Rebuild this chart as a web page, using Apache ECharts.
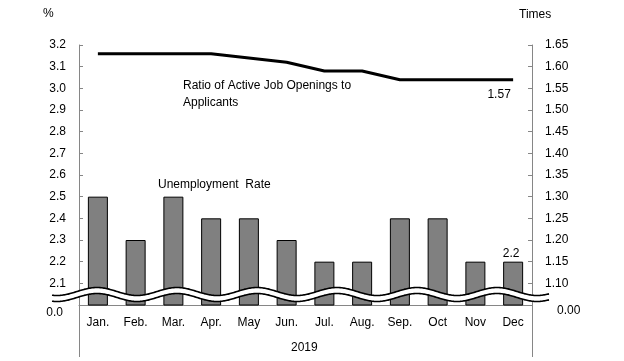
<!DOCTYPE html>
<html>
<head>
<meta charset="utf-8">
<script src="https://cdn.jsdelivr.net/npm/echarts@6/dist/echarts.min.js"></script>
<style>
html,body{margin:0;padding:0;background:#fff;}
#main{width:624px;height:361px;}
</style>
</head>
<body>
<div id="main"></div>
<script>
var categories = ['Jan.', 'Feb.', 'Mar.', 'Apr.', 'May', 'Jun.', 'Jul.', 'Aug.', 'Sep.', 'Oct', 'Nov', 'Dec'];
var unemploymentRate = [2.5, 2.3, 2.5, 2.4, 2.4, 2.3, 2.2, 2.2, 2.4, 2.4, 2.2, 2.2];
var jobRatio = [1.63, 1.63, 1.63, 1.63, 1.62, 1.61, 1.59, 1.59, 1.57, 1.57, 1.57, 1.57];
var yearLabel = '2019';
var leftAxisTitle = '%';
var rightAxisTitle = 'Times';
var ratioTitle = 'Ratio of Active Job Openings to\nApplicants';
var unempTitle = 'Unemployment  Rate';

var FONT = '"Liberation Sans", Arial, sans-serif';
var chart = echarts.init(document.getElementById('main'), null, {renderer: 'canvas'});

var gridL = 79, gridR = 92, gridT = 45, gridB = 56;
var W = 624, H = 361;
var axisY = H - gridB;

function waveGraphics() {
  var P = 80, A = 4, yc = 291.5, gap = 6, x0 = 52, x1 = 549;
  var top = [], bot = [];
  for (var x = x0; x <= x1; x += 1) {
    var y = yc - A * Math.cos(2 * Math.PI * (x - 97) / P);
    top.push([x, y]);
    bot.push([x, y + gap]);
  }
  var poly = top.concat(bot.slice().reverse());
  return [
    {type: 'polygon', z: 100, shape: {points: poly}, style: {fill: '#fff', stroke: null}},
    {type: 'polyline', z: 101, shape: {points: top}, style: {stroke: '#000', lineWidth: 1.6, fill: null}},
    {type: 'polyline', z: 101, shape: {points: bot}, style: {stroke: '#000', lineWidth: 1.6, fill: null}}
  ];
}

var option = {
  animation: false,
  textStyle: {fontFamily: FONT},
  grid: {left: gridL, right: gridR, top: gridT, bottom: gridB, containLabel: false},
  xAxis: {
    type: 'category',
    data: categories,
    axisLine: {lineStyle: {color: '#868686', width: 1}},
    axisTick: {show: false},
    axisLabel: {color: '#000', fontSize: 12, fontFamily: FONT, margin: 12}
  },
  yAxis: [
    {
      type: 'value', min: 2.0, max: 3.2, interval: 0.1, position: 'left',
      axisLine: {show: true, lineStyle: {color: '#868686'}},
      axisTick: {show: true, inside: true, length: 4, lineStyle: {color: '#868686'}},
      splitLine: {show: false},
      axisLabel: {
        color: '#000', fontSize: 12, fontFamily: FONT, margin: 13,
        formatter: function (v) {
          if (Math.abs(v - 2.0) < 1e-6) return '{z|0.0}';
          return v.toFixed(1);
        },
        rich: {z: {fontSize: 12, fontFamily: FONT, color: '#000', padding: [16, 3, 0, 0]}}
      }
    },
    {
      type: 'value', min: 1.05, max: 1.65, interval: 0.05, position: 'right',
      axisLine: {show: true, lineStyle: {color: '#868686'}},
      axisTick: {show: true, inside: true, length: 4, lineStyle: {color: '#868686'}},
      splitLine: {show: false},
      axisLabel: {
        color: '#000', fontSize: 12, fontFamily: FONT, margin: 13,
        formatter: function (v) {
          if (Math.abs(v - 1.05) < 1e-6) return '{z|0.00}';
          return v.toFixed(2);
        },
        rich: {z: {fontSize: 12, fontFamily: FONT, color: '#000', padding: [12, 0, 0, 12]}}
      }
    }
  ],
  series: [
    {
      type: 'bar', yAxisIndex: 0, data: unemploymentRate.map(function (v, i) {
        if (i === unemploymentRate.length - 1) {
          return {value: v, label: {show: true, position: 'top', distance: 2, offset: [-2, 0], color: '#000', fontSize: 12, fontFamily: FONT, formatter: function (p) { return p.value.toFixed(1); }}};
        }
        return v;
      }),
      barWidth: 20,
      itemStyle: {color: '#808080', borderColor: '#000', borderWidth: 1}
    },
    {
      type: 'line', yAxisIndex: 1, data: jobRatio.map(function (v, i) {
        if (i === jobRatio.length - 1) {
          return {value: v, label: {show: true, position: 'bottom', distance: 9, offset: [-14, 0], color: '#000', fontSize: 12, fontFamily: FONT, formatter: function (p) { return p.value.toFixed(2); }}};
        }
        return v;
      }),
      showSymbol: true, symbol: 'circle', symbolSize: 0.01,
      itemStyle: {color: '#000'},
      lineStyle: {color: '#000', width: 3},
      z: 5
    }
  ],
  graphic: [
    {type: 'text', left: 43, top: 8, style: {text: leftAxisTitle, fill: '#000', font: '12px ' + FONT}},
    {type: 'text', left: 519, top: 9, style: {text: rightAxisTitle, fill: '#000', font: '12px ' + FONT}},
    {type: 'text', left: 183, top: 77, style: {text: ratioTitle, fill: '#000', font: '12px ' + FONT, lineHeight: 17}},
    {type: 'text', left: 158, top: 179, style: {text: unempTitle, fill: '#000', font: '12px ' + FONT}},
    {type: 'text', left: 291, top: 342, style: {text: yearLabel, fill: '#000', font: '12px ' + FONT}},
    {type: 'line', shape: {x1: gridL + 0.5, y1: axisY, x2: gridL + 0.5, y2: 357}, style: {stroke: '#868686', lineWidth: 1}},
    {type: 'line', shape: {x1: W - gridR + 0.5, y1: axisY, x2: W - gridR + 0.5, y2: 357}, style: {stroke: '#868686', lineWidth: 1}}
  ].concat(waveGraphics())
};
chart.setOption(option);
</script>
</body>
</html>
